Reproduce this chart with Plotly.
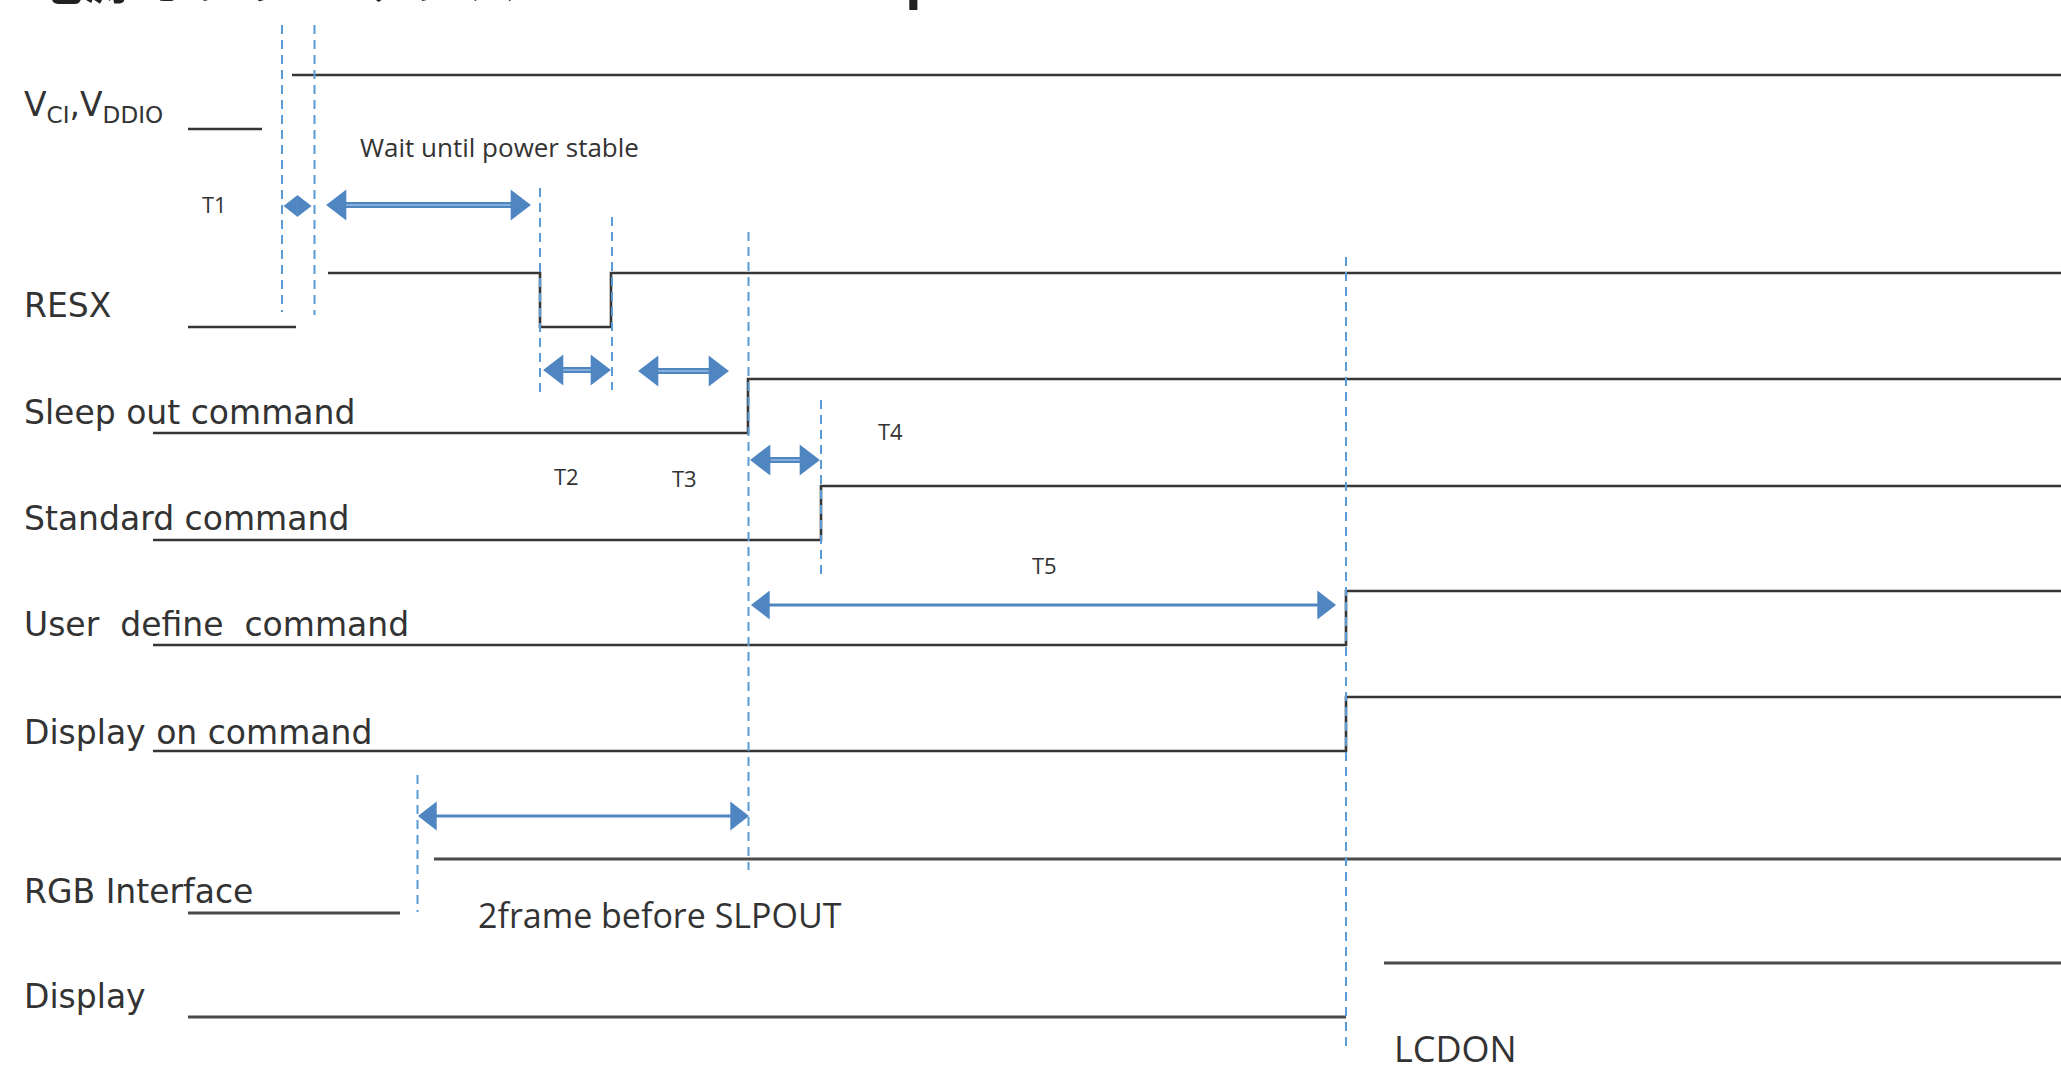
import plotly.graph_objects as go

# ---------------- data (pixel-time units) ----------------
signal_labels = ["V<sub>CI</sub>,V<sub>DDIO</sub>", "RESX", "Sleep out command", "Standard command",
                 "User\u00a0 define\u00a0 command", "Display on command", "RGB Interface", "Display"]

# waveform time points and logic levels (None = gap in the trace)
wave_t = [
    [188, 262, None, 292, 2061],
    [188, 296, None, 328, 540, 540, 611, 611, 2061],
    [153, 748, 748, 2061],
    [153, 821, 821, 2061],
    [153, 1346, 1346, 2061],
    [153, 1346, 1346, 2061],
    [188, 400, None, 434, 2061],
    [188, 1346, None, 1384, 2061],
]
wave_lvl = [
    [0, 0, None, 1, 1],
    [0, 0, None, 1, 1, 0, 0, 1, 1],
    [0, 0, 1, 1],
    [0, 0, 1, 1],
    [0, 0, 1, 1],
    [0, 0, 1, 1],
    [0, 0, None, 1, 1],
    [0, 0, None, 1, 1],
]

# dashed timing markers: time, top, bottom
marker_t = [282, 314.5, 540, 612, 748.5, 821, 1346, 417.5]
marker_top = [25, 25, 188, 217, 232, 400, 257, 775]
marker_bot = [312, 315, 395, 390, 870, 577, 1050, 912]

# timing intervals: start, end
interval_names = ["T1", "wait", "T2", "T3", "T4", "T5", "2frame"]
interval_start = [282, 324, 541, 636, 748, 749, 416]
interval_end = [313, 533, 613, 731, 822, 1338, 751]

# text annotations
note_text = ["T1", "Wait until power stable", "T2", "T3", "T4", "T5", "2frame before SLPOUT", "LCDON"]

title_text = "電源オンシーケンス  Power On Sequence"

# ---------------- layout (positions / styles) ----------------
W, H = 2061, 1066
row_base = [129, 327, 433, 540, 645, 751, 913, 1017]
row_amp = 54
row_color = ["#363636"] * 6 + ["#4a4a4a", "#4a4a4a"]
row_width = [2.6] * 6 + [3.2, 3.2]
label_y = [106, 305, 412, 518, 624, 732, 891, 996]
interval_y = [206, 205, 370, 371, 460, 605, 816]
interval_thin = [False, False, False, False, False, True, True]
head_size = [19, 27, 27, 27, 27, 25, 25]
note_pos = [(214, 204), (499, 147), (566, 476), (684, 478), (890, 431), (1044, 565), (660, 915), (1392, 1048)]
note_size = [22, 26, 22, 22, 22, 22, 34, 36]
note_anchor = ["center", "center", "center", "center", "center", "center", "center", "left"]

DASH = "#5b9bd5"
ARROW = "#4f86c2"
ARROW_LIGHT = "#86aedb"
TXT = "#333333"

fig = go.Figure()

# waveforms
for i, (ts, ls) in enumerate(zip(wave_t, wave_lvl)):
    ys = [None if l is None else row_base[i] - l * row_amp for l in ls]
    fig.add_trace(go.Scatter(x=ts, y=ys, mode="lines", connectgaps=False,
                             line=dict(color=row_color[i], width=row_width[i]),
                             hoverinfo="skip", showlegend=False))

# dashed markers
for t, y0, y1 in zip(marker_t, marker_top, marker_bot):
    fig.add_trace(go.Scatter(x=[t, t], y=[y0, y1], mode="lines",
                             line=dict(color=DASH, width=2, dash="9px,6px"),
                             hoverinfo="skip", showlegend=False))

# interval arrows: shaft + triangle heads (tip placed on the interval end)
for s, e, y, thin, size in zip(interval_start, interval_end, interval_y, interval_thin, head_size):
    r = size / 2
    tip = 2 / 3 ** 0.5 * r               # distance centre -> tip
    blen = tip + r / 2                   # head length
    if e - s > 2 * blen:
        xs = [s + blen * 0.5, e - blen * 0.5]
        if thin:
            fig.add_trace(go.Scatter(x=xs, y=[y, y], mode="lines",
                                     line=dict(color=ARROW, width=3),
                                     hoverinfo="skip", showlegend=False))
        else:
            fig.add_trace(go.Scatter(x=xs, y=[y, y], mode="lines",
                                     line=dict(color=ARROW, width=6),
                                     hoverinfo="skip", showlegend=False))
            fig.add_trace(go.Scatter(x=xs, y=[y, y], mode="lines",
                                     line=dict(color=ARROW_LIGHT, width=2.2),
                                     hoverinfo="skip", showlegend=False))
    fig.add_trace(go.Scatter(x=[s + tip, e - tip], y=[y, y], mode="markers",
                             marker=dict(symbol=["triangle-left", "triangle-right"], size=size,
                                         color=ARROW, line=dict(width=0)),
                             hoverinfo="skip", showlegend=False))

annotations = []
# signal labels
for lab, y in zip(signal_labels, label_y):
    annotations.append(dict(x=22, y=y, xref="x", yref="y", text=lab, showarrow=False,
                            xanchor="left", yanchor="middle",
                            font=dict(family="DejaVu Sans", size=33, color=TXT)))

# notes
for txt, (x, y), sz, anc in zip(note_text, note_pos, note_size, note_anchor):
    annotations.append(dict(x=x, y=y, xref="x", yref="y", text=txt, showarrow=False,
                            xanchor=anc, yanchor="middle",
                            font=dict(family="Open Sans", size=sz, color=TXT)))

# title (cropped at the top of the picture, as in the reference)
annotations.append(dict(x=26, y=16, xref="x", yref="y", text=title_text, showarrow=False,
                        xanchor="left", yanchor="bottom",
                        font=dict(family="Noto Sans CJK JP", size=55, color="#222222", weight="bold")))

fig.update_layout(
    width=W, height=H,
    margin=dict(l=0, r=0, t=0, b=0),
    paper_bgcolor="white", plot_bgcolor="white",
    xaxis=dict(range=[0, W], visible=False, fixedrange=True),
    yaxis=dict(range=[H, 0], visible=False, fixedrange=True),
    annotations=annotations,
    showlegend=False,
)

fig.write_html("out.html", config={"displayModeBar": False},
               post_script="document.body.style.margin='0';document.body.style.overflow='hidden';")
